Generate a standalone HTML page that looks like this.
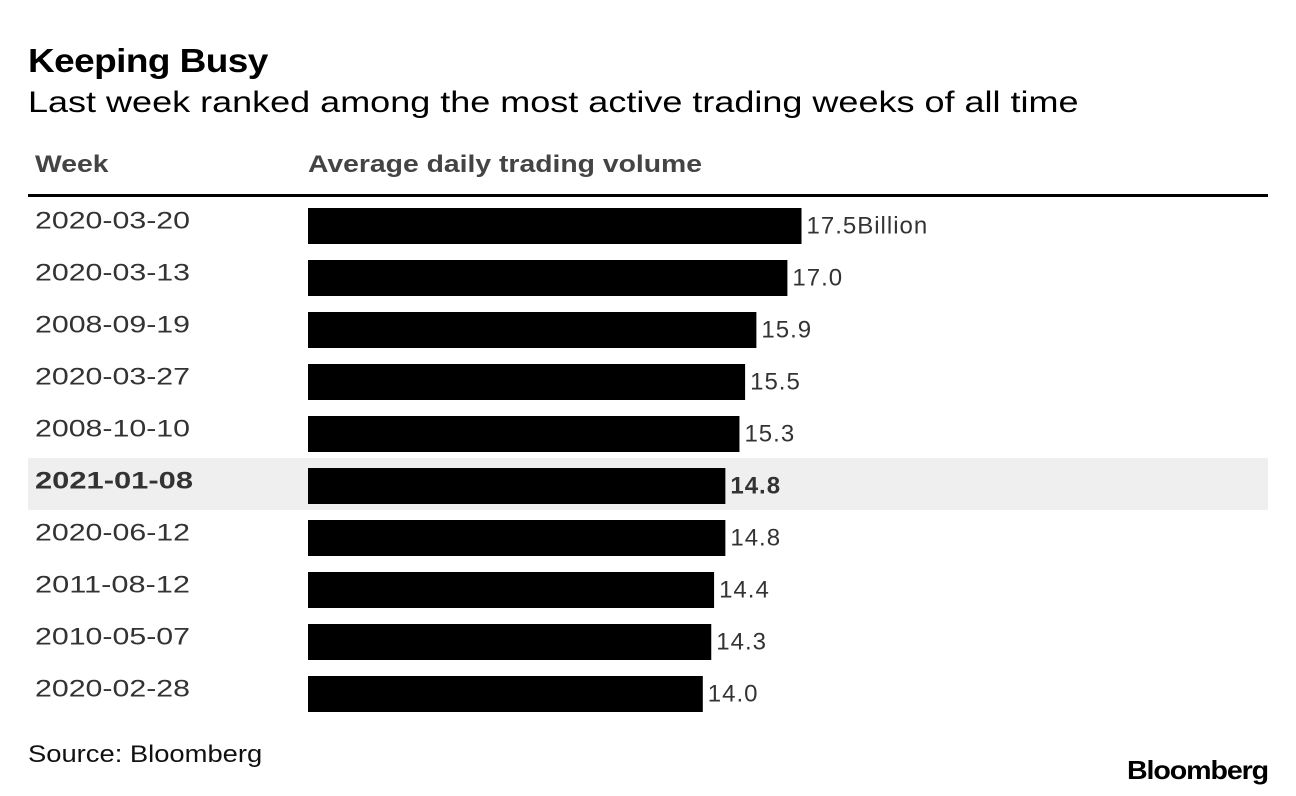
<!DOCTYPE html>
<html><head><meta charset="utf-8"><style>
body{margin:0;width:1296px;height:796px;background:#fff;font-family:"Liberation Sans",Arial,sans-serif;overflow:hidden;position:relative;color:#111}
.t{position:absolute;white-space:nowrap;transform-origin:0 0}
</style></head><body>
<div class="t" style="left:28px;top:42px;font-size:33px;font-weight:bold;color:#000;letter-spacing:-0.5px;transform:scaleX(1.12)">Keeping Busy</div>
<div class="t" style="left:28px;top:86px;font-size:30px;color:#000;transform:scaleX(1.2)">Last week ranked among the most active trading weeks of all time</div>
<div class="t" style="left:35px;top:151px;font-size:24px;font-weight:bold;color:#444;transform:scaleX(1.18)">Week</div>
<div class="t" style="left:308px;top:151px;font-size:24px;font-weight:bold;color:#444;transform:scaleX(1.18)">Average daily trading volume</div>
<div style="position:absolute;left:28px;top:194px;width:1240px;height:3px;background:#000"></div>
<svg id="chart" style="position:absolute;left:0;top:0" width="1296" height="796"></svg>
<div class="t" style="left:28px;top:741px;font-size:24px;color:#111;transform:scaleX(1.14)">Source: Bloomberg</div>
<div class="t" style="left:1127px;top:755px;font-size:26px;font-weight:bold;color:#000;letter-spacing:-1px;transform:scaleX(1.1)">Bloomberg</div>
<script>
const weeks=["2020-03-20","2020-03-13","2008-09-19","2020-03-27","2008-10-10","2021-01-08","2020-06-12","2011-08-12","2010-05-07","2020-02-28"];
const volumes=[17.5,17.0,15.9,15.5,15.3,14.8,14.8,14.4,14.3,14.0];
const valueLabels=["17.5Billion","17.0","15.9","15.5","15.3","14.8","14.8","14.4","14.3","14.0"];
const highlightWeek="2021-01-08";
const NS="http://www.w3.org/2000/svg";
const svg=document.getElementById('chart');
const x0=308, k=28.2, rowTop=206, pitch=52, barH=36;
const xs=v=>x0+v*k;
const ys=i=>rowTop+i*pitch;
function mk(t,a){const e=document.createElementNS(NS,t);for(const n in a)e.setAttribute(n,a[n]);svg.appendChild(e);return e;}
weeks.forEach((w,i)=>{
  const hl=w===highlightWeek;
  const y=ys(i);
  if(hl){const r=mk('rect',{x:28,y:y-8,width:1240,height:52,fill:'#efefef'});
    
    }
  const lab=mk('text',{x:35,y:y+16,'font-size':24,fill:'#333','font-weight':hl?'bold':'normal','dominant-baseline':'middle',textLength:hl?158:155,lengthAdjust:'spacingAndGlyphs'});
  lab.textContent=w;
  
  
  const b=mk('rect',{x:x0,y:y+2,width:xs(volumes[i])-x0,height:barH,fill:'#000'});
  
  
  const v=mk('text',{x:xs(volumes[i])+5,y:y+21,'font-size':24,fill:'#333','font-weight':hl?'bold':'normal','dominant-baseline':'middle','letter-spacing':1});
  v.textContent=valueLabels[i];
  
  
});
</script>
</body></html>
